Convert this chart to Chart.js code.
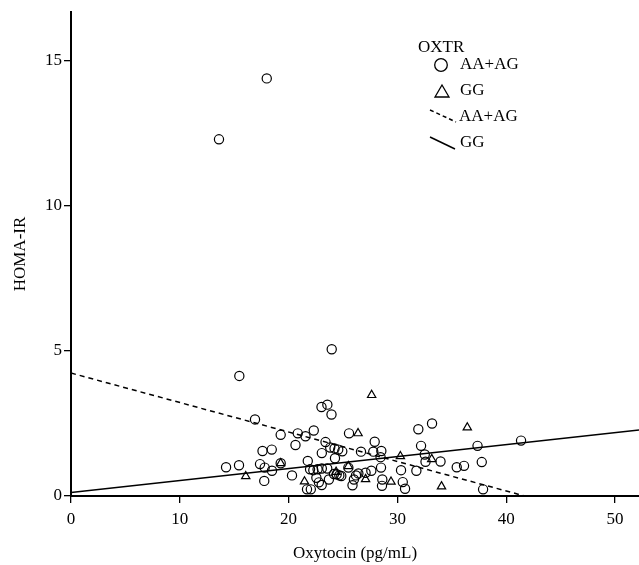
<!DOCTYPE html>
<html>
<head>
<meta charset="utf-8">
<script src="https://cdn.jsdelivr.net/npm/chart.js@4"></script>
<style>
  html, body { margin: 0; padding: 0; background: #fff; }
  #wrap { width: 639px; height: 565px; position: relative; }
</style>
</head>
<body>
<div id="wrap"><canvas id="c" width="639" height="565"></canvas></div>
<script>
// ---- Data ----
const aaagOxytocin = [13.6, 17.99, 15.47, 23.96, 16.91, 19.27, 20.84, 21.55, 22.31, 23.02, 23.56, 23.94, 25.55,
  17.6, 18.45, 20.63, 23.39, 23.82, 24.22, 24.56, 24.93, 23.05, 24.26, 21.76,
  14.25, 15.44, 17.37, 17.8, 18.47, 19.27, 17.76, 20.31, 21.97, 22.27, 22.66, 23.05, 23.55,
  22.55, 22.78, 23.7, 24.17, 24.42, 24.66, 24.84, 23.04, 21.69, 22.04,
  26.65, 27.78, 28.52, 28.45, 27.91, 25.49, 27.6, 27.07, 26.41, 26.19, 26.0, 25.87,
  28.49, 28.61, 28.58, 30.49, 30.7, 31.92, 33.18, 32.17, 32.51, 32.58, 33.96, 35.45, 36.12,
  30.33, 31.74, 37.36, 37.75, 37.87, 41.36];
const aaagHoma = [12.30, 14.40, 4.14, 5.06, 2.64, 2.11, 2.16, 2.06, 2.26, 3.07, 3.15, 2.81, 2.16,
  1.55, 1.60, 1.76, 1.86, 1.67, 1.64, 1.60, 1.54, 1.48, 1.30, 1.21,
  0.99, 1.06, 1.10, 0.98, 0.87, 1.13, 0.52, 0.71, 0.92, 0.89, 0.92, 0.95, 0.95,
  0.63, 0.47, 0.57, 0.76, 0.75, 0.71, 0.69, 0.38, 0.23, 0.23,
  1.53, 1.53, 1.55, 1.34, 1.87, 0.98, 0.87, 0.80, 0.78, 0.71, 0.57, 0.37,
  0.98, 0.57, 0.35, 0.48, 0.25, 2.30, 2.50, 1.73, 1.43, 1.18, 1.19, 0.99, 1.04,
  0.89, 0.87, 1.73, 1.17, 0.23, 1.91];

const ggOxytocin = [16.06, 19.27, 21.46, 24.36, 25.49, 26.38, 27.63, 27.07, 29.41, 30.27, 33.15, 34.05, 36.42];
const ggHoma =     [0.68, 1.13, 0.50, 0.83, 1.03, 2.16, 3.48, 0.58, 0.49, 1.37, 1.27, 0.33, 2.36];

// Fitted regression lines (end points)
const aaagFitX = [0, 41.7];
const aaagFitY = [4.24, 0];
const ggFitX = [0, 52.2];
const ggFitY = [0.12, 2.28];

const xTicks = [0, 10, 20, 30, 40, 50];
const yTicks = [0, 5, 10, 15];
const xTitle = 'Oxytocin (pg/mL)';
const yTitle = 'HOMA-IR';
const legendTitle = 'OXTR';
const legendLabels = ['AA+AG', 'GG', 'AA+AG', 'GG'];

const toXY = (xs, ys) => xs.map((x, i) => ({ x: x, y: ys[i] }));

const FONT = 'Liberation Serif, Times New Roman, serif';

const legendPlugin = {
  id: 'customLegend',
  afterDraw(chart) {
    const ctx = chart.ctx;
    ctx.save();
    ctx.fillStyle = '#000';
    ctx.strokeStyle = '#000';
    ctx.font = '17px ' + FONT;
    ctx.textBaseline = 'middle';
    ctx.textAlign = 'left';
    ctx.fillText(legendTitle, 418, 48);
    // circle
    ctx.lineWidth = 1.3;
    ctx.beginPath();
    ctx.arc(441, 65, 6.3, 0, Math.PI * 2);
    ctx.stroke();
    ctx.fillText(legendLabels[0], 460, 65);
    // triangle
    ctx.beginPath();
    ctx.moveTo(442, 85);
    ctx.lineTo(449, 97);
    ctx.lineTo(435, 97);
    ctx.closePath();
    ctx.stroke();
    ctx.fillText(legendLabels[1], 460, 91);
    // dashed line
    ctx.lineWidth = 1.5;
    ctx.setLineDash([4, 3]);
    ctx.beginPath();
    ctx.moveTo(430, 110);
    ctx.lineTo(456, 122);
    ctx.stroke();
    ctx.setLineDash([]);
    ctx.fillText(legendLabels[2], 459, 117);
    // solid line
    ctx.beginPath();
    ctx.moveTo(430, 137);
    ctx.lineTo(455, 149);
    ctx.stroke();
    ctx.fillText(legendLabels[3], 460, 143);
    ctx.restore();
  }
};

const zeroPad = (s) => { s.paddingLeft = 0; s.paddingRight = 0; s.paddingTop = 0; s.paddingBottom = 0; };

new Chart(document.getElementById('c'), {
  type: 'scatter',
  data: {
    datasets: [
      {
        label: 'AA+AG',
        data: toXY(aaagOxytocin, aaagHoma),
        pointStyle: 'circle',
        pointRadius: 4.6,
        borderWidth: 1.2,
        borderColor: '#000',
        backgroundColor: 'rgba(0,0,0,0)'
      },
      {
        label: 'GG',
        data: toXY(ggOxytocin, ggHoma),
        pointStyle: 'triangle',
        pointRadius: 4.8,
        borderWidth: 1.2,
        borderColor: '#000',
        backgroundColor: 'rgba(0,0,0,0)'
      },
      {
        label: 'AA+AG fit',
        data: toXY(aaagFitX, aaagFitY),
        showLine: true,
        pointRadius: 0,
        borderColor: '#000',
        borderWidth: 1.5,
        borderDash: [5, 4]
      },
      {
        label: 'GG fit',
        data: toXY(ggFitX, ggFitY),
        showLine: true,
        pointRadius: 0,
        borderColor: '#000',
        borderWidth: 1.5
      }
    ]
  },
  options: {
    responsive: false,
    animation: false,
    devicePixelRatio: 1,
    layout: { autoPadding: false, padding: { top: 12, right: 0, left: 0, bottom: 0 } },
    plugins: { legend: { display: false }, tooltip: { enabled: false } },
    scales: {
      x: {
        type: 'linear',
        min: 0,
        max: 52.2,
        afterBuildTicks: (s) => { s.ticks = xTicks.map(v => ({ value: v })); },
        afterFit: (s) => { s.height = 69; zeroPad(s); },
        border: { display: true, color: '#000', width: 2 },
        grid: { drawOnChartArea: false, drawTicks: true, tickLength: 7, color: '#000', lineWidth: 1.3 },
        ticks: { color: '#000', font: { family: FONT, size: 17 }, padding: 6, maxRotation: 0, autoSkip: false },
        title: { display: true, text: xTitle, color: '#000', font: { family: FONT, size: 17 }, padding: { top: 0, bottom: 1 } }
      },
      y: {
        type: 'linear',
        min: 0,
        max: 16.69,
        afterBuildTicks: (s) => { s.ticks = yTicks.map(v => ({ value: v })); },
        afterFit: (s) => { s.width = 71; zeroPad(s); },
        border: { display: true, color: '#000', width: 2 },
        grid: { drawOnChartArea: false, drawTicks: true, tickLength: 7, color: '#000', lineWidth: 1.3 },
        ticks: { color: '#000', font: { family: FONT, size: 17 }, padding: 2, autoSkip: false },
        title: { display: true, text: yTitle, color: '#000', font: { family: FONT, size: 17 }, padding: { top: 10, bottom: 0 } }
      }
    }
  },
  plugins: [legendPlugin]
});
</script>
</body>
</html>
